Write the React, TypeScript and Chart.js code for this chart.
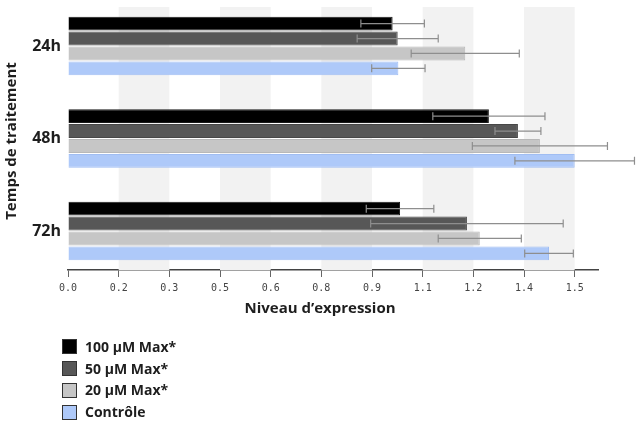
import { useEffect, useRef } from 'react';
import { Chart, registerables } from 'chart.js';

Chart.register(...registerables);

// Treatment durations (one group of bars each)
const categories = ['24h', '48h', '72h'];

// Series names, in drawing order
const seriesNames = ['100 µM Max*', '50 µM Max*', '20 µM Max*', 'Contrôle'];

// Expression levels and their error margins
const max100 = [0.961, 1.246, 0.983];
const max100Err = [0.094, 0.166, 0.1];
const max50 = [0.976, 1.332, 1.181];
const max50Err = [0.12, 0.068, 0.285];
const max20 = [1.176, 1.397, 1.219];
const max20Err = [0.16, 0.2, 0.123];
const controle = [0.978, 1.5, 1.424];
const controleErr = [0.079, 0.177, 0.072];

// X axis ticks and their printed labels
const tickValues = [0, 0.15, 0.3, 0.45, 0.6, 0.75, 0.9, 1.05, 1.2, 1.35, 1.5];
const tickLabels = ['0.0', '0.2', '0.3', '0.5', '0.6', '0.8', '0.9', '1.1', '1.2', '1.4', '1.5'];
const xMax = 1.569;

const seriesValues = [max100, max50, max20, controle];
const seriesErrors = [max100Err, max50Err, max20Err, controleErr];
const seriesColors = ['#000000', '#575757', '#c6c6c6', '#aec9f9'];
const seriesBorders = ['#1a1a1a', '#474747', '#b8b8b8', '#a0bdf2'];

const TITLE_FONT = '"Open Sans", "Noto Sans", sans-serif';

// Alternating shaded columns behind the bars
const bandsPlugin = {
  id: 'bands',
  beforeDatasetsDraw(chart: any) {
    const { ctx, chartArea, scales } = chart;
    const x = scales.x;
    ctx.save();
    ctx.fillStyle = '#f2f2f2';
    for (let i = 1; i + 1 < tickValues.length; i += 2) {
      const x0 = x.getPixelForValue(tickValues[i]);
      const x1 = x.getPixelForValue(tickValues[i + 1]);
      ctx.fillRect(x0, chartArea.top, x1 - x0, chartArea.bottom - chartArea.top);
    }
    ctx.restore();
  },
};

// Horizontal error bars with end caps
const errorBarsPlugin = {
  id: 'errorBars',
  afterDatasetsDraw(chart: any) {
    const { ctx, scales } = chart;
    const x = scales.x;
    ctx.save();
    ctx.strokeStyle = '#8e8e8e';
    ctx.lineWidth = 1.2;
    chart.data.datasets.forEach((_ds: any, di: number) => {
      const meta = chart.getDatasetMeta(di);
      meta.data.forEach((bar: any, i: number) => {
        const v = seriesValues[di][i];
        const e = seriesErrors[di][i];
        const xl = x.getPixelForValue(v - e);
        const xr = x.getPixelForValue(v + e);
        const y = bar.y;
        const cap = 4;
        ctx.beginPath();
        ctx.moveTo(xl, y);
        ctx.lineTo(xr, y);
        ctx.moveTo(xl, y - cap);
        ctx.lineTo(xl, y + cap);
        ctx.moveTo(xr, y - cap);
        ctx.lineTo(xr, y + cap);
        ctx.stroke();
      });
    });
    ctx.restore();
  },
};

// Axis titles
const titlesPlugin = {
  id: 'axisTitles',
  afterDraw(chart: any) {
    const { ctx } = chart;
    ctx.save();
    ctx.fillStyle = '#1e1e1e';
    ctx.font = `bold 15px ${TITLE_FONT}`;
    ctx.textAlign = 'center';
    ctx.textBaseline = 'middle';
    ctx.fillText('Niveau d’expression', 320, 309);
    ctx.translate(12, 141);
    ctx.rotate(-Math.PI / 2);
    ctx.fillText('Temps de traitement', 0, 0);
    ctx.restore();
  },
};

export default function App() {
  const canvasRef = useRef<HTMLCanvasElement>(null);

  useEffect(() => {
    document.body.style.margin = '0';
    const canvas = canvasRef.current;
    if (!canvas) return;

    const chart = new Chart(canvas, {
      type: 'bar',
      data: {
        datasets: seriesNames.map((name, di) => ({
          label: name,
          data: seriesValues[di].map((v, i) => ({ x: v, y: i })),
          backgroundColor: seriesColors[di],
          borderColor: seriesBorders[di],
          borderWidth: 1,
          categoryPercentage: 0.645,
          barPercentage: 0.93,
        })),
      },
      options: {
        indexAxis: 'y',
        responsive: false,
        animation: false,
        events: [],
        layout: { padding: { top: 7, right: 41, bottom: 0, left: 0 } },
        plugins: {
          legend: { display: false },
          tooltip: { enabled: false },
        },
        scales: {
          x: {
            type: 'linear',
            min: 0,
            max: xMax,
            afterBuildTicks(scale: any) {
              scale.ticks = tickValues.map((value) => ({ value }));
            },
            afterFit(scale: any) {
              scale.height = 162;
              scale.paddingLeft = 0;
              scale.paddingRight = 0;
            },
            ticks: {
              autoSkip: false,
              maxRotation: 0,
              padding: 5,
              color: '#444',
              font: { family: '"DejaVu Sans Mono", "Liberation Mono", monospace', size: 10 },
              callback: (_v: any, index: number) => tickLabels[index],
            },
            grid: {
              drawOnChartArea: false,
              drawTicks: true,
              tickLength: 7,
              color: '#666',
              tickWidth: 1,
            },
            border: { display: true, color: '#444', width: 1.5 },
          },
          y: {
            type: 'linear',
            reverse: true,
            offset: false,
            min: -0.4216,
            max: 2.4216,
            afterBuildTicks(scale: any) {
              scale.ticks = categories.map((_c, i) => ({ value: i }));
            },
            afterFit(scale: any) {
              scale.width = 68;
              scale.paddingTop = 0;
              scale.paddingBottom = 0;
            },
            ticks: {
              padding: 7,
              color: '#1e1e1e',
              font: { family: TITLE_FONT, size: 16, weight: 'bold' },
              callback: (value: any) => categories[Number(value)],
            },
            grid: { display: false, drawTicks: false, offset: false },
            border: { display: false },
          },
        },
      },
      plugins: [bandsPlugin, errorBarsPlugin, titlesPlugin],
    } as any);

    return () => chart.destroy();
  }, []);

  return (
    <div style={{ position: 'relative', width: 639, height: 432 }}>
      <canvas ref={canvasRef} width={639} height={432} style={{ display: 'block' }} />
      <div style={{ position: 'absolute', left: 62, top: 336, fontFamily: TITLE_FONT }}>
        {seriesNames.map((name, i) => (
          <div key={name} style={{ display: 'flex', alignItems: 'center', height: 21.8 }}>
            <span
              style={{
                width: 13,
                height: 13,
                background: seriesColors[i],
                border: '1px solid #333',
                marginRight: 8,
                display: 'inline-block',
              }}
            />
            <span style={{ fontSize: 14, fontWeight: 700, color: '#1e1e1e', lineHeight: '16px' }}>{name}</span>
          </div>
        ))}
      </div>
    </div>
  );
}
